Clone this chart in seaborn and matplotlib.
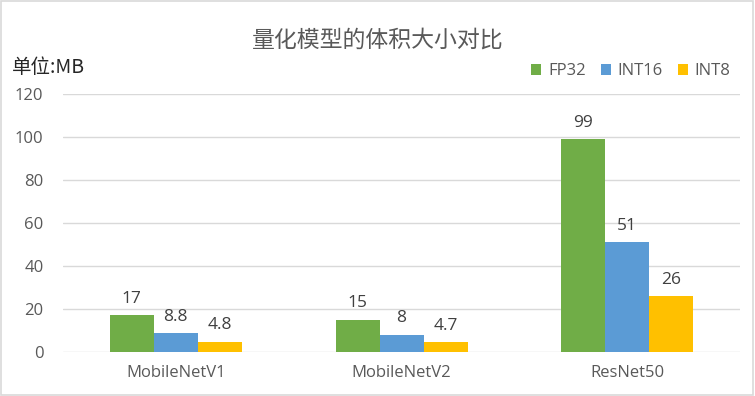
import pandas as pd
import seaborn as sns
from matplotlib import pyplot as plt
from matplotlib.patches import Rectangle

# chart data
models = ["MobileNetV1", "MobileNetV2", "ResNet50"]
precisions = ["FP32", "INT16", "INT8"]
fp32 = [17, 15, 99]
int16 = [8.8, 8, 51]
int8 = [4.8, 4.7, 26]
y_ticks = [0, 20, 40, 60, 80, 100, 120]

colors = ["#70AD47", "#5B9BD5", "#FFC000"]

sns.set_style("white")
plt.rcParams["font.family"] = ["Noto Sans CJK SC", "DejaVu Sans"]
sans = ["Open Sans", "DejaVu Sans"]

df = pd.DataFrame({
    "model": models * 3,
    "precision": [p for p in precisions for _ in models],
    "size": fp32 + int16 + int8,
})

fig = plt.figure(figsize=(7.55, 3.96), dpi=100)
ax = fig.add_axes([0.0834, 0.111, 0.897, 0.652])

sns.barplot(data=df, x="model", y="size", hue="precision",
            order=models, hue_order=precisions, palette=colors,
            width=0.585, saturation=1, linewidth=0, ax=ax, legend=True)

# value labels
for cont in ax.containers:
    labels = [f"{v:g}" for v in cont.datavalues]
    ax.bar_label(cont, labels=labels, padding=6, fontsize=12.5,
                 color="#404040", family=sans)

ax.set_ylim(0, 120)
ax.set_yticks(y_ticks)
ax.set_xlim(-0.5, 2.5)
ax.yaxis.grid(True, color="#D9D9D9", linewidth=1)
ax.set_axisbelow(True)
for s in ax.spines.values():
    s.set_visible(False)
ax.tick_params(axis="both", length=0, labelsize=12, labelcolor="#595959")
ax.tick_params(axis="y", pad=14)
ax.tick_params(axis="x", pad=9)
for lab in ax.get_xticklabels() + ax.get_yticklabels():
    lab.set_family(sans)
ax.set_xlabel("")
ax.set_ylabel("")

leg = ax.legend(loc="lower right", bbox_to_anchor=(0.995, 1.03), ncol=3,
                frameon=False, fontsize=12, handlelength=0.6,
                handleheight=0.6, handletextpad=0.4, columnspacing=0.9,
                borderaxespad=0)
for t in leg.get_texts():
    t.set_color("#595959")
    t.set_family(sans)

fig.text(0.5, 0.90, "量化模型的体积大小对比", ha="center", va="center",
         fontsize=16.5, color="#595959")
fig.text(0.016, 0.83, "单位:MB", ha="left", va="center", fontsize=14,
         color="#262626")

# light outer border
fig.patches.append(Rectangle((0.001, 0.002), 0.997, 0.996,
                             transform=fig.transFigure, fill=False,
                             edgecolor="#D9D9D9", linewidth=1.2))

fig.savefig("out.png", dpi=100)
